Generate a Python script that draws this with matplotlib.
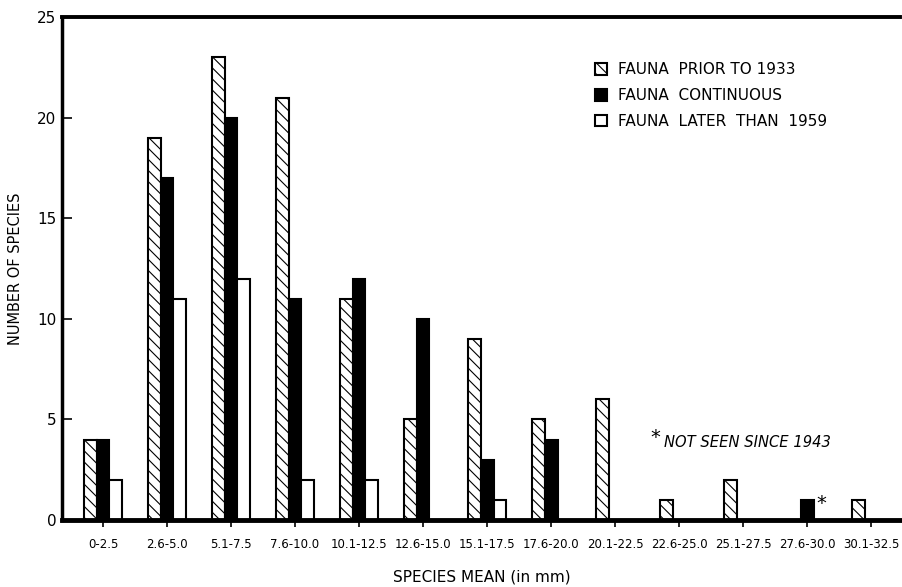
import numpy as np
import matplotlib.pyplot as plt

plt.rcParams['font.family'] = ['DejaVu Sans']
plt.rcParams['hatch.linewidth'] = 0.8

categories = ["0-2.5", "2.6-5.0", "5.1-7.5", "7.6-10.0", "10.1-12.5", "12.6-15.0",
              "15.1-17.5", "17.6-20.0", "20.1-22.5", "22.6-25.0", "25.1-27.5",
              "27.6-30.0", "30.1-32.5"]
prior_1933 = [4, 19, 23, 21, 11, 5, 9, 5, 6, 1, 2, 0, 1]
continuous = [4, 17, 20, 11, 12, 10, 3, 4, 0, 0, 0, 1, 0]
later_1959 = [2, 11, 12, 2, 2, 0, 1, 0, 0, 0, 0, 0, 0]

x = np.arange(len(categories))
w = 0.2

fig = plt.figure(figsize=(9.03, 5.87), dpi=100)
ax = fig.add_axes([0.0687, 0.114, 0.928, 0.857])

def draw(vals, offset, **kw):
    # zero counts are simply not drawn
    xs = [xi + offset for xi, v in zip(x, vals) if v > 0]
    vs = [v for v in vals if v > 0]
    return ax.bar(xs, vs, width=w, edgecolor='black', linewidth=1.5, **kw)

b1 = draw(prior_1933, -w, color='white', hatch='\\\\\\')
b2 = draw(continuous, 0, color='black')
b3 = draw(later_1959, w, color='white')

ax.set_xlim(-0.64, 12.45)
ax.set_ylim(0, 25)
ax.set_yticks([0, 5, 10, 15, 20, 25])
ax.set_xticks(x)
ax.set_xticklabels(categories, fontsize=8.5)
ax.tick_params(axis='y', direction='in', length=7, width=1.2, labelsize=11, pad=4)
ax.tick_params(axis='x', direction='out', length=5, width=1.2, pad=8)

ax.spines['left'].set_linewidth(2.5)
ax.spines['bottom'].set_linewidth(3.5)
ax.spines['top'].set_linewidth(2.8)
ax.spines['right'].set_visible(False)

ax.set_ylabel("NUMBER OF SPECIES", fontsize=10.5, labelpad=10)
ax.set_xlabel("SPECIES MEAN (in mm)", fontsize=11)
ax.xaxis.set_label_coords(0.501, -0.098)

ax.legend([b1, b2, b3],
          ["FAUNA  PRIOR TO 1933", "FAUNA  CONTINUOUS", "FAUNA  LATER  THAN  1959"],
          loc='upper left', bbox_to_anchor=(0.636, 0.91), frameon=False,
          borderaxespad=0, borderpad=0,
          fontsize=11, handlelength=0.8, handleheight=0.8, handletextpad=0.7,
          labelspacing=0.7)

ax.text(8.62, 4.1, "*", fontsize=14, ha='center', va='center')
ax.text(8.76, 3.85, "NOT SEEN SINCE 1943", fontsize=10.6, style='italic',
        ha='left', va='center')
ax.text(11.22, 0.8, "*", fontsize=14, ha='center', va='center')

fig.savefig("out.png", dpi=100)
